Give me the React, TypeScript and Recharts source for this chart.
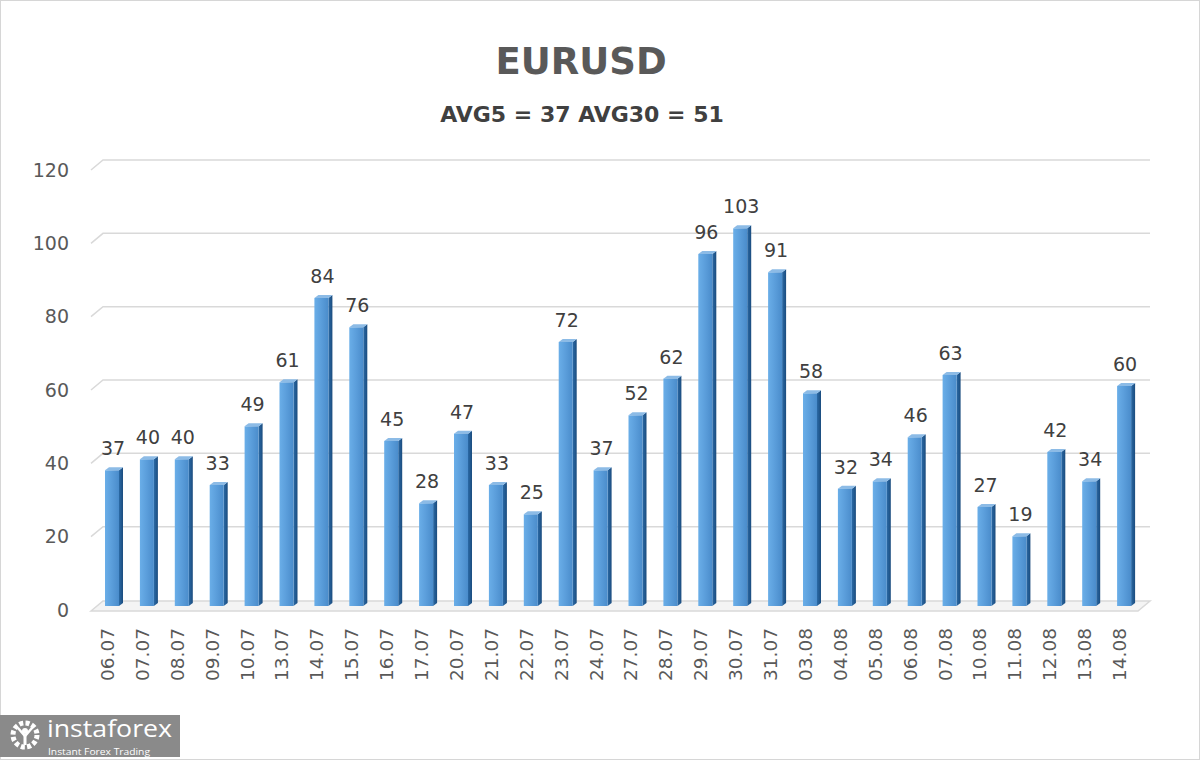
import React from "react";
import { BarChart, Bar, XAxis, YAxis, CartesianGrid, LabelList } from "recharts";

const categories = [
  "06.07", "07.07", "08.07", "09.07", "10.07", "13.07", "14.07", "15.07", "16.07", "17.07",
  "20.07", "21.07", "22.07", "23.07", "24.07", "27.07", "28.07", "29.07", "30.07", "31.07",
  "03.08", "04.08", "05.08", "06.08", "07.08", "10.08", "11.08", "12.08", "13.08", "14.08",
];
const values = [
  37, 40, 40, 33, 49, 61, 84, 76, 45, 28,
  47, 33, 25, 72, 37, 52, 62, 96, 103, 91,
  58, 32, 34, 46, 63, 27, 19, 42, 34, 60,
];
const yTicks = [0, 20, 40, 60, 80, 100, 120];
const titleText = "EURUSD";
const subtitleText = "AVG5 = 37 AVG30 = 51";

const data = categories.map((c, i) => ({ name: c, value: values[i] }));

const FONT = "'DejaVu Sans', sans-serif";
const LIFT = 4;

const Bar3D = (props: any) => {
  const { x, y, width, height } = props;
  if (height == null || height <= 0) return null;
  const d = 4;
  const dy = 3;
  const top = y - LIFT;
  const bottom = y + height - LIFT;
  return (
    <g>
      <polygon
        points={`${x + width},${top} ${x + width + d},${top - dy} ${x + width + d},${bottom - dy} ${x + width},${bottom}`}
        fill="url(#sideGrad)"
      />
      <polygon
        points={`${x},${top} ${x + d},${top - dy} ${x + width + d},${top - dy} ${x + width},${top}`}
        fill="#8cbbe6"
      />
      <rect x={x} y={top} width={width} height={height} fill="url(#frontGrad)" />
    </g>
  );
};

const GridLine = (props: any) => {
  const { x1, x2, y1, index } = props;
  const y = y1;
  if (Math.abs(y - 610) < 1) {
    return (
      <g key={`g-${index}`}>
        <polygon
          points={`${x1 - 4},${y + 1} ${x1 + 8},${y - 9} ${x2 + 8},${y - 9} ${x2 - 4},${y + 1}`}
          fill="#f4f4f4"
          stroke="#d9d9d9"
          strokeWidth={1.5}
        />
      </g>
    );
  }
  return (
    <path
      key={`g-${index}`}
      d={`M${x1 - 4},${y} L${x1 + 8},${y - 10} L${x2 + 8},${y - 10}`}
      fill="none"
      stroke="#d9d9d9"
      strokeWidth={1.5}
    />
  );
};

const XTick = (props: any) => {
  const { x, y, payload } = props;
  const ax = x + 1.5;
  const ay = y + 10;
  return (
    <text
      x={ax}
      y={ay}
      transform={`rotate(-90, ${ax}, ${ay})`}
      textAnchor="end"
      fontFamily={FONT}
      fontSize={18.5}
      fill="#595959"
    >
      {payload.value}
    </text>
  );
};

const ValueLabel = (props: any) => {
  const { x, y, width, value } = props;
  return (
    <text
      x={x + width / 2 + 1}
      y={y - LIFT - 15}
      textAnchor="middle"
      fontFamily={FONT}
      fontSize={19}
      fill="#404040"
    >
      {value}
    </text>
  );
};

export default function App() {
  return (
    <div
      style={{
        position: "absolute",
        left: 0,
        top: 0,
        width: 1200,
        height: 760,
        background: "#ffffff",
        overflow: "hidden",
      }}
    >
      <div style={{ position: "absolute", left: 0, top: 0 }}>
        <BarChart
          width={1200}
          height={760}
          data={data}
          margin={{ top: 170, right: 58, bottom: 50, left: 0 }}
          barCategoryGap={0}
        >
          <defs>
            <linearGradient id="frontGrad" x1="0" y1="0" x2="1" y2="0">
              <stop offset="0%" stopColor="#6aaee8" />
              <stop offset="45%" stopColor="#5c9fdc" />
              <stop offset="100%" stopColor="#4a8ccb" />
            </linearGradient>
            <linearGradient id="sideGrad" x1="0" y1="0" x2="1" y2="0">
              <stop offset="0%" stopColor="#2b6aa6" />
              <stop offset="100%" stopColor="#1b4c7e" />
            </linearGradient>
          </defs>
          <CartesianGrid vertical={false} horizontal={GridLine as any} />
          <XAxis
            dataKey="name"
            interval={0}
            tickLine={false}
            axisLine={false}
            height={100}
            tick={<XTick />}
          />
          <YAxis
            domain={[0, 120]}
            ticks={yTicks}
            width={95}
            tickLine={false}
            axisLine={false}
            tickSize={0}
            tickMargin={26}
            tick={{ fontFamily: FONT, fontSize: 19, fill: "#595959" }}
          />
          <Bar dataKey="value" barSize={14} shape={<Bar3D />} isAnimationActive={false}>
            <LabelList dataKey="value" content={<ValueLabel />} />
          </Bar>
        </BarChart>
      </div>
      <svg
        width={1200}
        height={760}
        style={{ position: "absolute", left: 0, top: 0, pointerEvents: "none" }}
      >
        <text
          x={581}
          y={74}
          textAnchor="middle"
          fontFamily={FONT}
          fontWeight="bold"
          fontSize={37}
          fill="#595959"
        >
          {titleText}
        </text>
        <text
          x={582}
          y={122}
          textAnchor="middle"
          fontFamily={FONT}
          fontWeight="bold"
          fontSize={22}
          fill="#404040"
        >
          {subtitleText}
        </text>
        <rect x={0.5} y={0.5} width={1199} height={759} fill="none" stroke="#d6d6d6" strokeWidth={1} />
        <g>
          <rect x={0} y={715} width={180} height={42} fill="#8a8a8a" />
          <circle cx={25} cy={735} r={12} fill="none" stroke="#ffffff" strokeWidth={5} strokeDasharray="4 2.3" />
          <circle cx={25} cy={735} r={8} fill="#8a8a8a" />
          <circle cx={25} cy={731} r={3} fill="#ffffff" />
          <path d="M18,728 L25,736 L32,728" fill="none" stroke="#ffffff" strokeWidth={2.5} />
          <rect x={23.5} y={735} width={3} height={10} fill="#ffffff" />
          <text x={47} y={737} fontFamily="'Open Sans', sans-serif" fontSize={24} fill="#ffffff" textLength={125} lengthAdjust="spacingAndGlyphs">
            instaforex
          </text>
          <text x={48} y={755} fontFamily="'Open Sans', sans-serif" fontSize={9.5} fill="#ffffff" textLength={102} lengthAdjust="spacingAndGlyphs">
            Instant Forex Trading
          </text>
        </g>
      </svg>
    </div>
  );
}
